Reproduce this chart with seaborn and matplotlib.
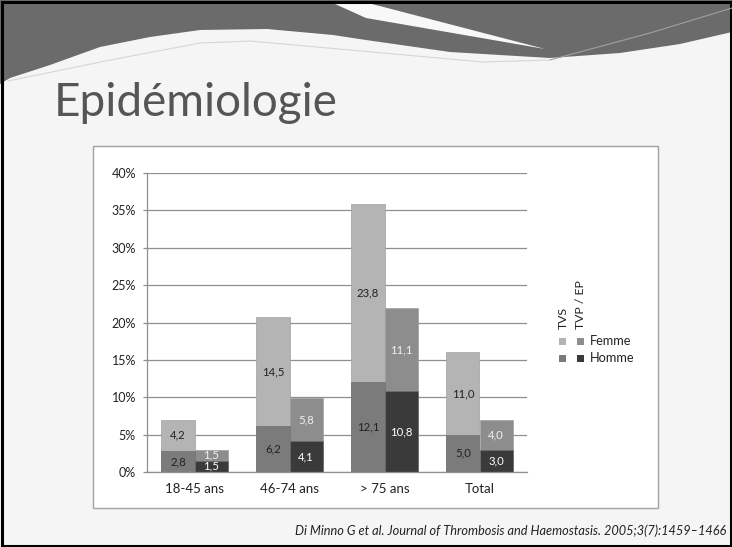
import matplotlib
matplotlib.use("Agg")
import matplotlib.pyplot as plt
import seaborn as sns
import pandas as pd
import numpy as np
from matplotlib.patches import Rectangle, Polygon

# ---------------- data ----------------
categories = ["18-45 ans", "46-74 ans", "> 75 ans", "Total"]
types = ["TVS", "TVP / EP"]
tvs_homme = [2.8, 6.2, 12.1, 5.0]
tvs_femme = [4.2, 14.5, 23.8, 11.0]
tvp_homme = [1.5, 4.1, 10.8, 3.0]
tvp_femme = [1.5, 5.8, 11.1, 4.0]
y_ticks = [0, 5, 10, 15, 20, 25, 30, 35, 40]
y_tick_labels = [f"{t}%" for t in y_ticks]
title = "Epidémiologie"
citation = "Di Minno G et al. Journal of Thrombosis and Haemostasis. 2005;3(7):1459–1466"

# colours
col_femme = {"TVS": "#b4b4b4", "TVP / EP": "#8d8d8d"}
col_homme = {"TVS": "#7b7b7b", "TVP / EP": "#3a3a3a"}
lab_femme = {"TVS": "#222222", "TVP / EP": "#f0f0f0"}
lab_homme = {"TVS": "#222222", "TVP / EP": "#ffffff"}

rows = []
for i, c in enumerate(categories):
    rows.append({"cat": c, "type": "TVS", "homme": tvs_homme[i], "femme": tvs_femme[i]})
    rows.append({"cat": c, "type": "TVP / EP", "homme": tvp_homme[i], "femme": tvp_femme[i]})
df = pd.DataFrame(rows)
df["total"] = df["homme"] + df["femme"]

sns.set_style("white")
plt.rcParams["font.family"] = ["Lato", "DejaVu Sans"]

W, H = 732, 547
fig = plt.figure(figsize=(W / 100, H / 100), dpi=100)
fig.patch.set_facecolor("#f5f5f5")

# ---------------- slide decoration (pixel coords) ----------------
bg = fig.add_axes([0, 0, 1, 1], zorder=0)
bg.set_xlim(0, W)
bg.set_ylim(H, 0)
bg.axis("off")

bx = [0, 10, 50, 100, 150, 200, 267, 333, 366, 450, 550, 620, 680, 732]
by = [84, 78, 65, 47, 37, 30, 29, 35, 40, 52, 58, 53, 44, 32]
xs = np.linspace(0, W, 300)
ys = np.interp(xs, bx, by)
banner = np.vstack([np.column_stack([xs, ys]), [[W, 0], [0, 0]]])
bg.add_patch(Polygon(banner, closed=True, facecolor="#6b6b6b", edgecolor="none"))
# white wedge
bg.add_patch(Polygon([[335, 4], [372, 4], [545, 49], [366, 18]], closed=True,
                     facecolor="#f8f8f8", edgecolor="none"))
# light swoosh lines
lx = [8, 100, 200, 250, 350, 483, 550]
ly = [81, 62, 43, 41, 50, 62, 60]
xs2 = np.linspace(8, 550, 200)
bg.plot(xs2, np.interp(xs2, lx, ly), color="#d6d6d6", lw=0.8)
rx = [550, 650, 732]
ry = [60, 33, 8]
xs3 = np.linspace(550, 732, 100)
bg.plot(xs3, np.interp(xs3, rx, ry), color="#a0a0a0", lw=0.8)

# outer frame
bg.add_patch(Rectangle((1.5, 1.5), W - 3, H - 3, facecolor="none", edgecolor="black", lw=2.2))
# chart box
bg.add_patch(Rectangle((93, 146), 658 - 93, 508 - 146, facecolor="white",
                       edgecolor="#a3a3a3", lw=1.0))

bg.text(54, 116, title, fontsize=33, color="#555555", va="baseline", ha="left")
bg.text(726, 531, citation, fontsize=9.2, color="#222222", ha="right", va="center",
        style="italic")

# ---------------- chart ----------------
ax = fig.add_axes([147 / W, (H - 472) / H, (527 - 147) / W, (472 - 173) / H], zorder=2)
ax.patch.set_alpha(0)

sns.barplot(data=df, x="cat", y="total", hue="type", hue_order=types, order=categories,
            palette=col_femme, width=0.7, saturation=1, legend=False, ax=ax,
            edgecolor="#a0a0a0", linewidth=0.5, errorbar=None)
sns.barplot(data=df, x="cat", y="homme", hue="type", hue_order=types, order=categories,
            palette=col_homme, width=0.7, saturation=1, legend=False, ax=ax,
            edgecolor="#707070", linewidth=0.5, errorbar=None)

fmt = lambda v: f"{v:.1f}".replace(".", ",")
hom = {"TVS": tvs_homme, "TVP / EP": tvp_homme}
fem = {"TVS": tvs_femme, "TVP / EP": tvp_femme}
for k, t in enumerate(types):
    cont = ax.containers[2 + k]
    for i, p in enumerate(cont.patches):
        xc = p.get_x() + p.get_width() / 2
        h = hom[t][i]
        f = fem[t][i]
        ax.text(xc, h / 2, fmt(h), ha="center", va="center", fontsize=8.2, color=lab_homme[t])
        ax.text(xc, h + f / 2, fmt(f), ha="center", va="center", fontsize=8.2, color=lab_femme[t])

ax.set_xlim(-0.5, 3.5)
ax.set_ylim(0, 40)
ax.set_yticks(y_ticks)
ax.set_yticklabels(y_tick_labels)
ax.set_xlabel("")
ax.set_ylabel("")
ax.yaxis.grid(True, color="#8f8f8f", lw=0.9)
ax.xaxis.grid(False)
ax.set_axisbelow(True)
for s in ["top", "right"]:
    ax.spines[s].set_visible(False)
for s in ["left", "bottom"]:
    ax.spines[s].set_color("#8f8f8f")
    ax.spines[s].set_linewidth(0.9)
ax.set_xticks([-0.5, 0.5, 1.5, 2.5, 3.5], minor=True)
ax.tick_params(axis="x", which="minor", length=7, color="#8f8f8f", width=0.9, direction="out")
ax.tick_params(axis="x", which="major", length=0, pad=8, labelsize=9.5, labelcolor="#222222")
ax.tick_params(axis="y", which="major", length=3, color="#8f8f8f", width=0.9, pad=5,
               labelsize=9, labelcolor="#222222", left=True)

# ---------------- legend (manual, pixel coords) ----------------
col_x = {"TVS": 562, "TVP / EP": 580}
for t in types:
    bg.text(col_x[t] + 1, 329, t, rotation=90, ha="center", va="bottom", fontsize=8.8,
            color="#222222", zorder=5)
for label, yy, cols in [("Femme", 341, col_femme), ("Homme", 358, col_homme)]:
    for t in types:
        bg.add_patch(Rectangle((col_x[t] - 3.5, yy - 3.5), 7, 7, facecolor=cols[t],
                               edgecolor="none", zorder=5))
    bg.text(590, yy, label, ha="left", va="center", fontsize=9.2, color="#222222", zorder=5)

fig.savefig("out.png", dpi=100, facecolor=fig.get_facecolor())
